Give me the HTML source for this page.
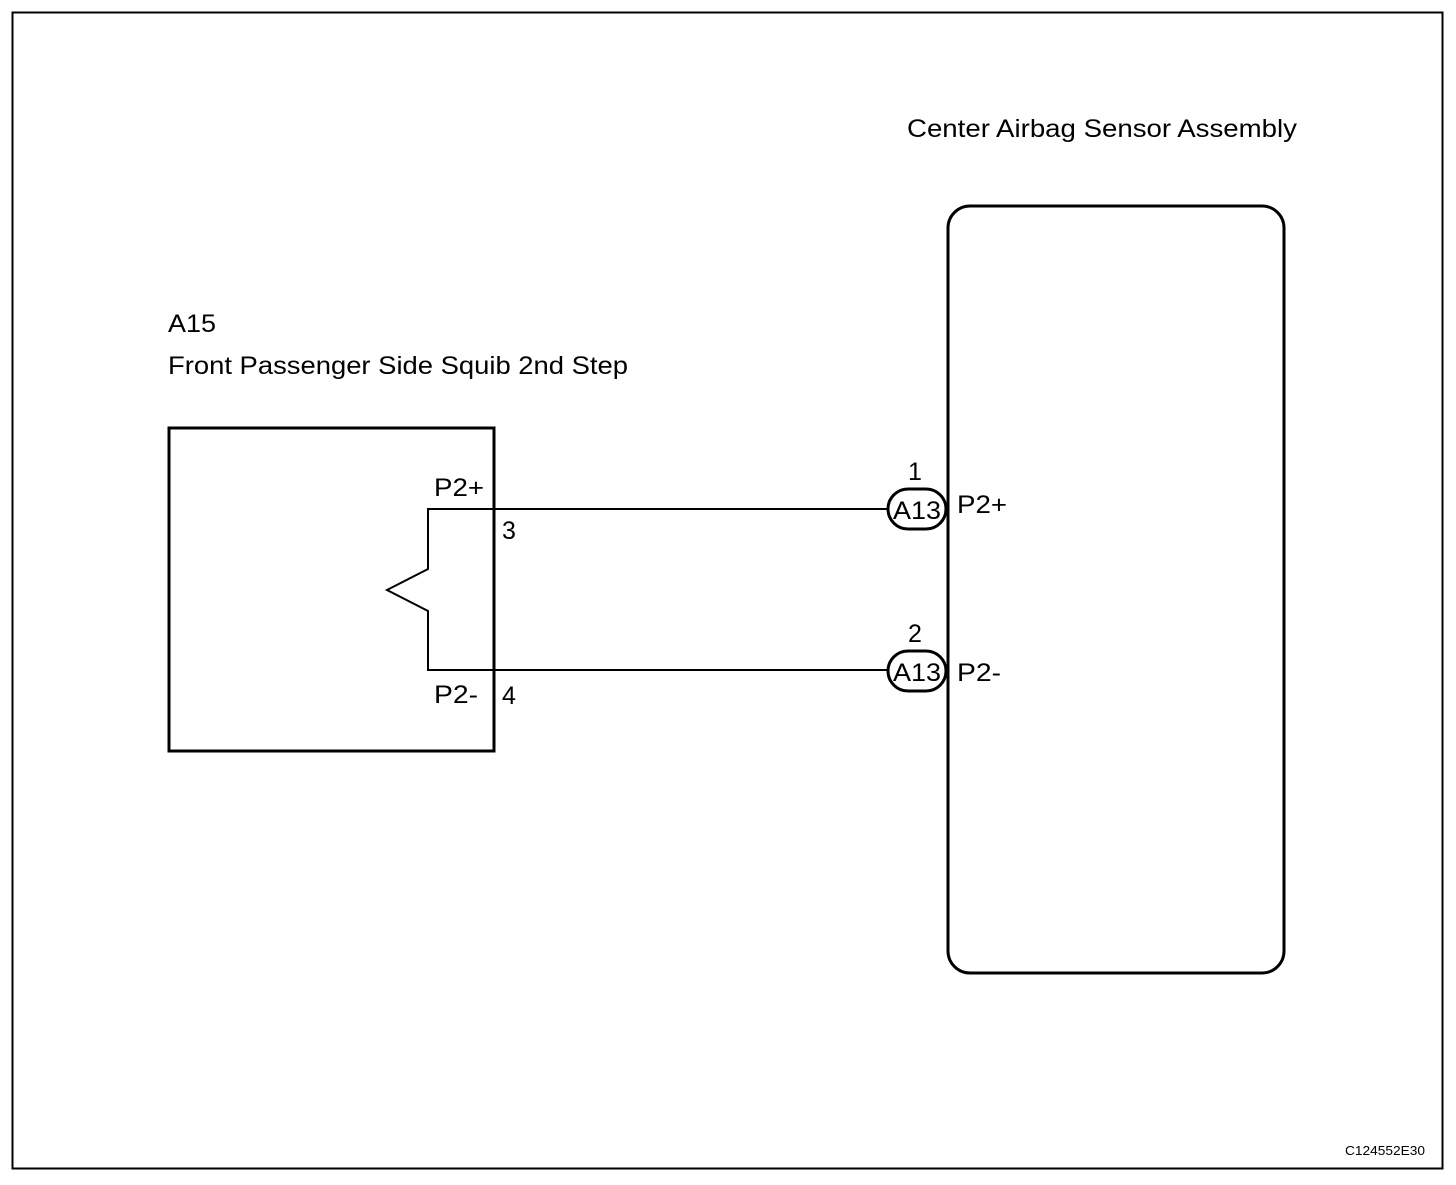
<!DOCTYPE html>
<html><head><style>
body{margin:0;background:#fff;}
text{font-family:"Liberation Sans",Arial,sans-serif;fill:#000;}
</style></head><body>
<svg width="1456" height="1180" xmlns="http://www.w3.org/2000/svg">
<rect x="12.5" y="12.5" width="1430" height="1156" fill="none" stroke="#000" stroke-width="2"/>
<text x="907" y="137" font-size="25" textLength="390" lengthAdjust="spacingAndGlyphs">Center Airbag Sensor Assembly</text>
<rect x="948" y="206" width="336" height="767" rx="22" fill="none" stroke="#000" stroke-width="3"/>
<text x="168" y="332" font-size="25" textLength="48" lengthAdjust="spacingAndGlyphs">A15</text>
<text x="168" y="374" font-size="25" textLength="460" lengthAdjust="spacingAndGlyphs">Front Passenger Side Squib 2nd Step</text>
<rect x="169" y="428" width="325" height="323" fill="none" stroke="#000" stroke-width="3"/>
<polyline points="888,509 428,509 428,569 387,590 428,611 428,670 888,670" fill="none" stroke="#000" stroke-width="2"/>
<text x="434" y="496" font-size="25" textLength="50" lengthAdjust="spacingAndGlyphs">P2+</text>
<text x="502" y="539" font-size="25">3</text>
<text x="434" y="703" font-size="25" textLength="44" lengthAdjust="spacingAndGlyphs">P2-</text>
<text x="502" y="704" font-size="25">4</text>
<rect x="888" y="489" width="58" height="40" rx="20" fill="#fff" stroke="#000" stroke-width="3"/>
<text x="893" y="519" font-size="25" textLength="48" lengthAdjust="spacingAndGlyphs">A13</text>
<text x="915" y="480" font-size="25" text-anchor="middle">1</text>
<text x="957" y="513" font-size="25" textLength="50" lengthAdjust="spacingAndGlyphs">P2+</text>
<rect x="888" y="651" width="58" height="40" rx="20" fill="#fff" stroke="#000" stroke-width="3"/>
<text x="893" y="681" font-size="25" textLength="48" lengthAdjust="spacingAndGlyphs">A13</text>
<text x="915" y="642" font-size="25" text-anchor="middle">2</text>
<text x="957" y="681" font-size="25" textLength="44" lengthAdjust="spacingAndGlyphs">P2-</text>
<text x="1345" y="1155" font-size="13" textLength="80" lengthAdjust="spacingAndGlyphs">C124552E30</text>
</svg>
</body></html>
